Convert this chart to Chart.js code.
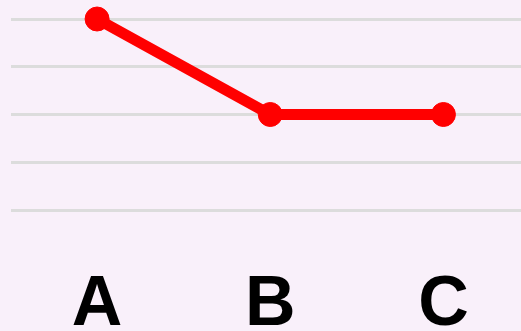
<!DOCTYPE html>
<html>
<head>
    <title>Line chart</title>
    <script src="https://cdn.jsdelivr.net/npm/chart.js"></script>
    <style>
        html, body {
            margin: 0;
            padding: 0;
            background: #f9f0fa;
            overflow: hidden;
            width: 521px;
            height: 331px;
        }
        #chart {
            display: block;
        }
    </style>
</head>
<body>
    <canvas id="chart" width="530" height="331"></canvas>

    <script>
        const categories = ['A', 'B', 'C'];
        const values = [4, 2, 2];
        const yTicks = [0, 1, 2, 3, 4];

        new Chart(document.getElementById('chart'), {
            type: 'line',
            data: {
                labels: categories,
                datasets: [{
                    data: values,
                    borderColor: '#ff0000',
                    backgroundColor: '#ff0000',
                    borderWidth: 11,
                    pointRadius: 12,
                    pointBorderWidth: 1,
                    pointHoverRadius: 12,
                    tension: 0,
                    clip: false
                }]
            },
            options: {
                responsive: false,
                animation: false,
                layout: {
                    autoPadding: false,
                    padding: { left: 10.5, top: 19, right: 0, bottom: 0 }
                },
                plugins: {
                    legend: { display: false },
                    tooltip: { enabled: false }
                },
                scales: {
                    x: {
                        offset: true,
                        grid: { display: false },
                        border: { display: false },
                        afterFit: axis => { axis.height = 121; },
                        ticks: {
                            color: '#000',
                            padding: 46,
                            font: { family: '"Liberation Sans", Arial, sans-serif', size: 70, weight: 'bold' }
                        }
                    },
                    y: {
                        min: yTicks[0],
                        max: yTicks[yTicks.length - 1],
                        afterBuildTicks: axis => {
                            axis.ticks = yTicks.map(v => ({ value: v }));
                        },
                        afterFit: axis => { axis.width = 0; },
                        grid: {
                            color: '#dcdcdc',
                            lineWidth: 3,
                            drawTicks: false
                        },
                        border: { display: false },
                        ticks: { display: false }
                    }
                }
            }
        });
    </script>
</body>
</html>
